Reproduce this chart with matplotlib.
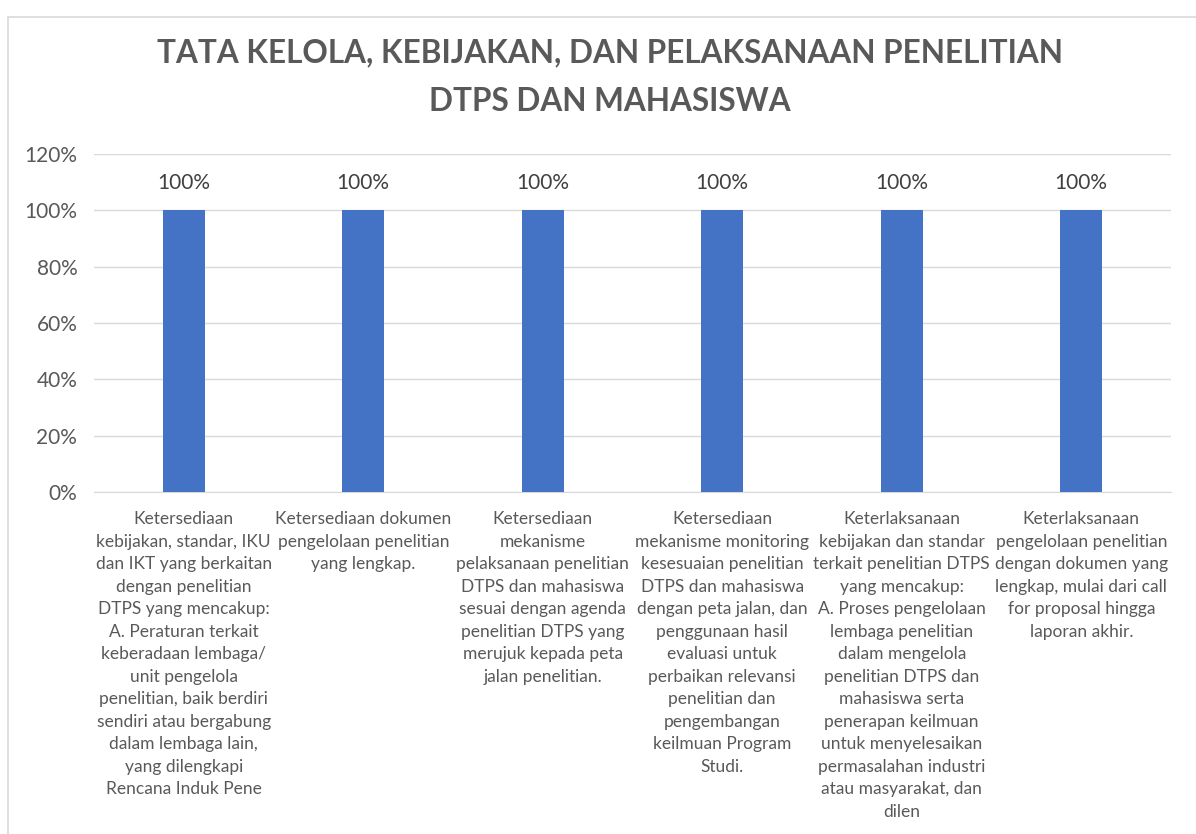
import matplotlib.pyplot as plt
from matplotlib.patches import Rectangle
from matplotlib.ticker import FuncFormatter

plt.rcParams['font.family'] = ['Lato', 'DejaVu Sans']

title = "TATA KELOLA, KEBIJAKAN, DAN PELAKSANAAN PENELITIAN\nDTPS DAN MAHASISWA"
categories = [
    "Ketersediaan\nkebijakan, standar, IKU\ndan IKT yang berkaitan\ndengan penelitian\nDTPS yang mencakup:\n"
    "A. Peraturan terkait\nkeberadaan lembaga/\nunit pengelola\npenelitian, baik berdiri\n"
    "sendiri atau bergabung\ndalam lembaga lain,\nyang dilengkapi\nRencana Induk Pene",
    "Ketersediaan dokumen\npengelolaan penelitian\nyang lengkap.",
    "Ketersediaan\nmekanisme\npelaksanaan penelitian\nDTPS dan mahasiswa\nsesuai dengan agenda\n"
    "penelitian DTPS yang\nmerujuk kepada peta\njalan penelitian.",
    "Ketersediaan\nmekanisme monitoring\nkesesuaian penelitian\nDTPS dan mahasiswa\ndengan peta jalan, dan\n"
    "penggunaan hasil\nevaluasi untuk\nperbaikan relevansi\npenelitian dan\npengembangan\nkeilmuan Program\nStudi.",
    "Keterlaksanaan\nkebijakan dan standar\nterkait penelitian DTPS\nyang mencakup:\nA. Proses pengelolaan\n"
    "lembaga penelitian\ndalam mengelola\npenelitian DTPS dan\nmahasiswa serta\npenerapan keilmuan\n"
    "untuk menyelesaikan\npermasalahan industri\natau masyarakat, dan\ndilen",
    "Keterlaksanaan\npengelolaan penelitian\ndengan dokumen yang\nlengkap, mulai dari call\nfor proposal hingga\nlaporan akhir.",
]
values = [1.0, 1.0, 1.0, 1.0, 1.0, 1.0]
yticks = [0, 0.2, 0.4, 0.6, 0.8, 1.0, 1.2]

fig = plt.figure(figsize=(11.96, 8.34), dpi=100)
ax = fig.add_axes([94 / 1196, 1 - 492 / 834, 1077 / 1196, 338 / 834])

# chart border
fig.patches.append(Rectangle((8 / 1196, -0.01), 1.1, 1 - 17 / 834 + 0.01, transform=fig.transFigure,
                             fill=False, edgecolor='#d9d9d9', linewidth=1.2))

x = range(len(categories))
bars = ax.bar(x, values, width=0.235, color='#4472c4', zorder=3)
for b, v in zip(bars, values):
    ax.text(b.get_x() + b.get_width() / 2, v + 0.062, f"{v:.0%}", ha='center', va='bottom',
            fontsize=15, color='#404040')

ax.set_ylim(0, 1.2)
ax.set_xlim(-0.5, len(categories) - 0.5)
ax.set_yticks(yticks)
ax.yaxis.set_major_formatter(FuncFormatter(lambda v, p: f"{v:.0%}"))
ax.grid(axis='y', color='#d9d9d9', linewidth=1, zorder=0)
for s in ['top', 'right', 'left']:
    ax.spines[s].set_visible(False)
ax.spines['bottom'].set_color('#d9d9d9')
ax.tick_params(axis='y', length=0, labelsize=15, labelcolor='#595959', pad=12)
ax.tick_params(axis='x', length=0, labelsize=12.5, labelcolor='#595959', pad=14)
ax.set_xticks(list(x))
ax.set_xticklabels(categories, linespacing=1.5)

fig.text(0.51, 1 - 77 / 834, title, ha='center', va='center', fontsize=22.7, fontweight='bold',
         color='#595959', linespacing=1.8)

fig.savefig('out.png', dpi=100)
